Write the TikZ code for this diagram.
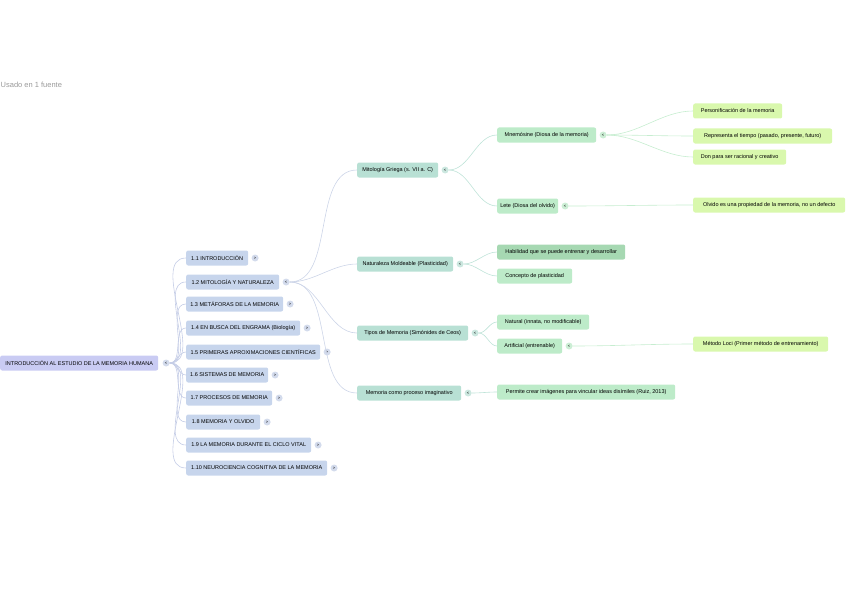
\documentclass[tikz,border=0pt]{standalone}
\usepackage{fontspec}
\setmainfont{Liberation Sans}
\usetikzlibrary{positioning}
\definecolor{rootfill}{HTML}{C9CBF3}
\definecolor{onefill}{HTML}{C7D5EC}
\definecolor{twofill}{HTML}{B8E0D4}
\definecolor{threefill}{HTML}{BDEBC9}
\definecolor{threedark}{HTML}{A6D8B2}
\definecolor{fourfill}{HTML}{D9F8AD}
\definecolor{oneknob}{HTML}{D3DBEC}
\definecolor{twoknob}{HTML}{CBE7DF}
\definecolor{threeknob}{HTML}{CCEED5}
\definecolor{oneline}{HTML}{C5CDE6}
\definecolor{twoline}{HTML}{CDD5E8}
\definecolor{threeline}{HTML}{BFE3D8}
\definecolor{fourline}{HTML}{C6EDD0}
\begin{document}
\begin{tikzpicture}[x=1pt,y=-1pt,
    box/.style={rounded corners=2pt,minimum height=15pt,inner xsep=0pt,inner ysep=0pt,anchor=west,font=\fontsize{5.5}{6}\selectfont},
    knob/.style={circle,inner sep=0pt,minimum size=7pt,fill=#1,font=\fontsize{4}{4}\selectfont},
    link/.style={draw=#1,line width=0.6pt},
    curve/.style={out=0,in=180,looseness=0.9}]
    \useasboundingbox (0,0) rectangle (848,599);
    \node[anchor=west,text=black!40,font=\fontsize{7.5}{8}\selectfont,inner sep=0pt] (src) at (0.5,85) {Usado en 1 fuente};
    % root
    \node[box,fill=rootfill,minimum width=158pt] (raiz) at (0,363) {INTRODUCCIÓN AL ESTUDIO DE LA MEMORIA HUMANA};
    \node[knob=oneknob,right=4pt of raiz] (kraiz) {<};
    % first level
    \node[box,fill=onefill,minimum width=62pt] (b11) at (186,258) {1.1 INTRODUCCIÓN};
    \node[box,fill=onefill,minimum width=93pt] (b12) at (186,282) {1.2 MITOLOGÍA Y NATURALEZA};
    \node[box,fill=onefill,minimum width=97pt] (b13) at (186,304) {1.3 METÁFORAS DE LA MEMORIA};
    \node[box,fill=onefill,minimum width=114pt] (b14) at (186,328) {1.4 EN BUSCA DEL ENGRAMA (Biología)};
    \node[box,fill=onefill,minimum width=134pt] (b15) at (186,352) {1.5 PRIMERAS APROXIMACIONES CIENTÍFICAS};
    \node[box,fill=onefill,minimum width=82pt] (b16) at (186,375) {1.6 SISTEMAS DE MEMORIA};
    \node[box,fill=onefill,minimum width=86pt] (b17) at (186,398) {1.7 PROCESOS DE MEMORIA};
    \node[box,fill=onefill,minimum width=74pt] (b18) at (186,422) {1.8 MEMORIA Y OLVIDO};
    \node[box,fill=onefill,minimum width=125pt] (b19) at (186,445) {1.9 LA MEMORIA DURANTE EL CICLO VITAL};
    \node[box,fill=onefill,minimum width=141pt] (b110) at (186,468) {1.10 NEUROCIENCIA COGNITIVA DE LA MEMORIA};
    \foreach \b/\s in {b11/>,b12/<,b13/>,b14/>,b15/>,b16/>,b17/>,b18/>,b19/>,b110/>}
        \node[knob=oneknob,right=3pt of \b] (k\b) {\s};
    \foreach \b in {b11,b12,b13,b14,b15,b16,b17,b18,b19,b110}
        \draw[link=oneline] (kraiz.east) to[curve] (\b.west);
    % second level
    \node[box,fill=twofill,minimum width=81pt] (mito) at (357,170) {Mitología Griega (s. VII a. C)};
    \node[box,fill=twofill,minimum width=96pt] (natu) at (357,264) {Naturaleza Moldeable (Plasticidad)};
    \node[box,fill=twofill,minimum width=111pt] (tipos) at (357,333) {Tipos de Memoria (Simónides de Ceos)};
    \node[box,fill=twofill,minimum width=104pt] (imag) at (357,393) {Memoria como proceso imaginativo};
    \foreach \b in {mito,natu,tipos,imag}
        \node[knob=twoknob,right=3pt of \b] (k\b) {<};
    \foreach \b in {mito,natu,tipos,imag}
        \draw[link=twoline] (kb12.east) to[curve] (\b.west);
    % third level
    \node[box,fill=threefill,minimum width=99pt] (mnem) at (497,135) {Mnemósine (Diosa de la memoria)};
    \node[box,fill=threefill,minimum width=61pt] (lete) at (497,206) {Lete (Diosa del olvido)};
    \node[box,fill=threedark,minimum width=128pt] (habi) at (497,252) {Habilidad que se puede entrenar y desarrollar};
    \node[box,fill=threefill,minimum width=75pt] (conc) at (497,276) {Concepto de plasticidad};
    \node[box,fill=threefill,minimum width=92pt] (natur) at (497,322) {Natural (innata, no modificable)};
    \node[box,fill=threefill,minimum width=65pt] (arti) at (497,346) {Artificial (entrenable)};
    \node[box,fill=threefill,minimum width=178pt] (perm) at (497,392) {Permite crear imágenes para vincular ideas disímiles (Ruiz, 2013)};
    \foreach \b in {mnem,lete,arti}
        \node[knob=threeknob,right=3pt of \b] (k\b) {<};
    \draw[link=threeline] (kmito.east) to[curve] (mnem.west);
    \draw[link=threeline] (kmito.east) to[curve] (lete.west);
    \draw[link=threeline] (knatu.east) to[curve] (habi.west);
    \draw[link=threeline] (knatu.east) to[curve] (conc.west);
    \draw[link=threeline] (ktipos.east) to[curve] (natur.west);
    \draw[link=threeline] (ktipos.east) to[curve] (arti.west);
    \draw[link=threeline] (kimag.east) to[curve] (perm.west);
    % fourth level
    \node[box,fill=fourfill,minimum width=89pt] (pers) at (693,111) {Personificación de la memoria};
    \node[box,fill=fourfill,minimum width=139pt] (repr) at (693,136) {Representa el tiempo (pasado, presente, futuro)};
    \node[box,fill=fourfill,minimum width=93pt] (don) at (693,157) {Don para ser racional y creativo};
    \node[box,fill=fourfill,minimum width=152pt] (olvi) at (693,205) {Olvido es una propiedad de la memoria, no un defecto};
    \node[box,fill=fourfill,minimum width=135pt] (loci) at (693,344) {Método Loci (Primer método de entrenamiento)};
    \draw[link=fourline] (kmnem.east) to[curve] (pers.west);
    \draw[link=fourline] (kmnem.east) to[curve] (repr.west);
    \draw[link=fourline] (kmnem.east) to[curve] (don.west);
    \draw[link=fourline] (klete.east) to[curve] (olvi.west);
    \draw[link=fourline] (karti.east) to[curve] (loci.west);
\end{tikzpicture}
\end{document}
